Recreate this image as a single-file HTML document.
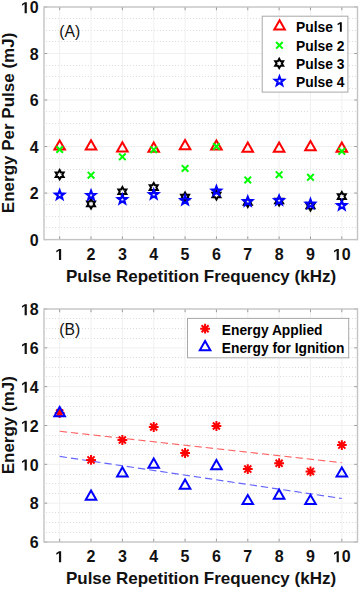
<!DOCTYPE html>
<html><head><meta charset="utf-8"><style>
html,body{margin:0;padding:0;background:#fff;}
body{width:359px;height:590px;overflow:hidden;}
svg{display:block;}
text{font-family:"Liberation Sans",sans-serif;fill:#000;}
.tk{font-size:16px;font-weight:bold;fill:#111;}
.al{font-size:17px;font-weight:bold;fill:#111;}
.lg{font-size:13.8px;font-weight:bold;fill:#000;}
.one{fill:none;}
.lb{font-size:15.7px;fill:#111;}
</style></head><body>
<svg width="359" height="590" viewBox="0 0 359 590">
<rect width="359" height="590" fill="#ffffff"/>
<line x1="46.0" y1="227.50" x2="357.5" y2="227.50" stroke="#dcdcdc" stroke-width="1" stroke-dasharray="1 2"/>
<line x1="46.0" y1="216.50" x2="357.5" y2="216.50" stroke="#dcdcdc" stroke-width="1" stroke-dasharray="1 2"/>
<line x1="46.0" y1="204.50" x2="357.5" y2="204.50" stroke="#dcdcdc" stroke-width="1" stroke-dasharray="1 2"/>
<line x1="46.0" y1="181.50" x2="357.5" y2="181.50" stroke="#dcdcdc" stroke-width="1" stroke-dasharray="1 2"/>
<line x1="46.0" y1="169.50" x2="357.5" y2="169.50" stroke="#dcdcdc" stroke-width="1" stroke-dasharray="1 2"/>
<line x1="46.0" y1="158.50" x2="357.5" y2="158.50" stroke="#dcdcdc" stroke-width="1" stroke-dasharray="1 2"/>
<line x1="46.0" y1="134.50" x2="357.5" y2="134.50" stroke="#dcdcdc" stroke-width="1" stroke-dasharray="1 2"/>
<line x1="46.0" y1="123.50" x2="357.5" y2="123.50" stroke="#dcdcdc" stroke-width="1" stroke-dasharray="1 2"/>
<line x1="46.0" y1="111.50" x2="357.5" y2="111.50" stroke="#dcdcdc" stroke-width="1" stroke-dasharray="1 2"/>
<line x1="46.0" y1="88.50" x2="357.5" y2="88.50" stroke="#dcdcdc" stroke-width="1" stroke-dasharray="1 2"/>
<line x1="46.0" y1="76.50" x2="357.5" y2="76.50" stroke="#dcdcdc" stroke-width="1" stroke-dasharray="1 2"/>
<line x1="46.0" y1="65.50" x2="357.5" y2="65.50" stroke="#dcdcdc" stroke-width="1" stroke-dasharray="1 2"/>
<line x1="46.0" y1="41.50" x2="357.5" y2="41.50" stroke="#dcdcdc" stroke-width="1" stroke-dasharray="1 2"/>
<line x1="46.0" y1="30.50" x2="357.5" y2="30.50" stroke="#dcdcdc" stroke-width="1" stroke-dasharray="1 2"/>
<line x1="46.0" y1="18.50" x2="357.5" y2="18.50" stroke="#dcdcdc" stroke-width="1" stroke-dasharray="1 2"/>
<line x1="44.0" y1="193.08" x2="357.5" y2="193.08" stroke="#f0f0f0" stroke-width="1"/>
<line x1="44.0" y1="146.56" x2="357.5" y2="146.56" stroke="#f0f0f0" stroke-width="1"/>
<line x1="44.0" y1="100.04" x2="357.5" y2="100.04" stroke="#f0f0f0" stroke-width="1"/>
<line x1="44.0" y1="53.52" x2="357.5" y2="53.52" stroke="#f0f0f0" stroke-width="1"/>
<line x1="59.67" y1="7.0" x2="59.67" y2="239.6" stroke="#f0f0f0" stroke-width="1"/>
<line x1="91.03" y1="7.0" x2="91.03" y2="239.6" stroke="#f0f0f0" stroke-width="1"/>
<line x1="122.38" y1="7.0" x2="122.38" y2="239.6" stroke="#f0f0f0" stroke-width="1"/>
<line x1="153.72" y1="7.0" x2="153.72" y2="239.6" stroke="#f0f0f0" stroke-width="1"/>
<line x1="185.07" y1="7.0" x2="185.07" y2="239.6" stroke="#f0f0f0" stroke-width="1"/>
<line x1="216.43" y1="7.0" x2="216.43" y2="239.6" stroke="#f0f0f0" stroke-width="1"/>
<line x1="247.78" y1="7.0" x2="247.78" y2="239.6" stroke="#f0f0f0" stroke-width="1"/>
<line x1="279.12" y1="7.0" x2="279.12" y2="239.6" stroke="#f0f0f0" stroke-width="1"/>
<line x1="310.48" y1="7.0" x2="310.48" y2="239.6" stroke="#f0f0f0" stroke-width="1"/>
<line x1="341.82" y1="7.0" x2="341.82" y2="239.6" stroke="#f0f0f0" stroke-width="1"/>
<line x1="44.0" y1="239.60" x2="47.2" y2="239.60" stroke="#9a9a9a" stroke-width="1"/>
<line x1="354.3" y1="239.60" x2="357.5" y2="239.60" stroke="#9a9a9a" stroke-width="1"/>
<line x1="44.0" y1="193.08" x2="47.2" y2="193.08" stroke="#9a9a9a" stroke-width="1"/>
<line x1="354.3" y1="193.08" x2="357.5" y2="193.08" stroke="#9a9a9a" stroke-width="1"/>
<line x1="44.0" y1="146.56" x2="47.2" y2="146.56" stroke="#9a9a9a" stroke-width="1"/>
<line x1="354.3" y1="146.56" x2="357.5" y2="146.56" stroke="#9a9a9a" stroke-width="1"/>
<line x1="44.0" y1="100.04" x2="47.2" y2="100.04" stroke="#9a9a9a" stroke-width="1"/>
<line x1="354.3" y1="100.04" x2="357.5" y2="100.04" stroke="#9a9a9a" stroke-width="1"/>
<line x1="44.0" y1="53.52" x2="47.2" y2="53.52" stroke="#9a9a9a" stroke-width="1"/>
<line x1="354.3" y1="53.52" x2="357.5" y2="53.52" stroke="#9a9a9a" stroke-width="1"/>
<line x1="44.0" y1="7.00" x2="47.2" y2="7.00" stroke="#9a9a9a" stroke-width="1"/>
<line x1="354.3" y1="7.00" x2="357.5" y2="7.00" stroke="#9a9a9a" stroke-width="1"/>
<line x1="59.67" y1="239.6" x2="59.67" y2="236.4" stroke="#9a9a9a" stroke-width="1"/>
<line x1="59.67" y1="7.0" x2="59.67" y2="10.2" stroke="#9a9a9a" stroke-width="1"/>
<line x1="91.03" y1="239.6" x2="91.03" y2="236.4" stroke="#9a9a9a" stroke-width="1"/>
<line x1="91.03" y1="7.0" x2="91.03" y2="10.2" stroke="#9a9a9a" stroke-width="1"/>
<line x1="122.38" y1="239.6" x2="122.38" y2="236.4" stroke="#9a9a9a" stroke-width="1"/>
<line x1="122.38" y1="7.0" x2="122.38" y2="10.2" stroke="#9a9a9a" stroke-width="1"/>
<line x1="153.72" y1="239.6" x2="153.72" y2="236.4" stroke="#9a9a9a" stroke-width="1"/>
<line x1="153.72" y1="7.0" x2="153.72" y2="10.2" stroke="#9a9a9a" stroke-width="1"/>
<line x1="185.07" y1="239.6" x2="185.07" y2="236.4" stroke="#9a9a9a" stroke-width="1"/>
<line x1="185.07" y1="7.0" x2="185.07" y2="10.2" stroke="#9a9a9a" stroke-width="1"/>
<line x1="216.43" y1="239.6" x2="216.43" y2="236.4" stroke="#9a9a9a" stroke-width="1"/>
<line x1="216.43" y1="7.0" x2="216.43" y2="10.2" stroke="#9a9a9a" stroke-width="1"/>
<line x1="247.78" y1="239.6" x2="247.78" y2="236.4" stroke="#9a9a9a" stroke-width="1"/>
<line x1="247.78" y1="7.0" x2="247.78" y2="10.2" stroke="#9a9a9a" stroke-width="1"/>
<line x1="279.12" y1="239.6" x2="279.12" y2="236.4" stroke="#9a9a9a" stroke-width="1"/>
<line x1="279.12" y1="7.0" x2="279.12" y2="10.2" stroke="#9a9a9a" stroke-width="1"/>
<line x1="310.48" y1="239.6" x2="310.48" y2="236.4" stroke="#9a9a9a" stroke-width="1"/>
<line x1="310.48" y1="7.0" x2="310.48" y2="10.2" stroke="#9a9a9a" stroke-width="1"/>
<line x1="341.82" y1="239.6" x2="341.82" y2="236.4" stroke="#9a9a9a" stroke-width="1"/>
<line x1="341.82" y1="7.0" x2="341.82" y2="10.2" stroke="#9a9a9a" stroke-width="1"/>
<rect x="44.0" y="7.0" width="313.5" height="232.6" fill="none" stroke="#c4c4c4" stroke-width="1.4"/>
<text x="38.7" y="245.80" text-anchor="end" class="tk">0</text>
<text x="38.7" y="199.28" text-anchor="end" class="tk">2</text>
<text x="38.7" y="152.76" text-anchor="end" class="tk">4</text>
<text x="38.7" y="106.24" text-anchor="end" class="tk">6</text>
<text x="38.7" y="59.72" text-anchor="end" class="tk">8</text>
<text x="38.7" y="13.20" text-anchor="end" class="tk"><tspan class="one">1</tspan>0</text>
<text x="59.67" y="259.90" text-anchor="middle" class="tk"><tspan class="one">1</tspan></text>
<text x="91.03" y="259.90" text-anchor="middle" class="tk">2</text>
<text x="122.38" y="259.90" text-anchor="middle" class="tk">3</text>
<text x="153.72" y="259.90" text-anchor="middle" class="tk">4</text>
<text x="185.07" y="259.90" text-anchor="middle" class="tk">5</text>
<text x="216.43" y="259.90" text-anchor="middle" class="tk">6</text>
<text x="247.78" y="259.90" text-anchor="middle" class="tk">7</text>
<text x="279.12" y="259.90" text-anchor="middle" class="tk">8</text>
<text x="310.48" y="259.90" text-anchor="middle" class="tk">9</text>
<text x="341.82" y="259.90" text-anchor="middle" class="tk"><tspan class="one">1</tspan>0</text>
<text x="59.3" y="36.5" class="lb">(A)</text>
<text transform="translate(14.1,122.9) rotate(-90)" text-anchor="middle" class="al">Energy Per Pulse (mJ)</text>
<text x="201" y="281.9" text-anchor="middle" class="al">Pulse Repetition Frequency (kHz)</text>
<path d="M59.67 140.41L54.40 149.60L64.95 149.60Z" fill="none" stroke="#ff0000" stroke-width="2.0" stroke-linejoin="miter" stroke-miterlimit="4"/>
<path d="M91.03 140.21L85.75 149.40L96.30 149.40Z" fill="none" stroke="#ff0000" stroke-width="2.0" stroke-linejoin="miter" stroke-miterlimit="4"/>
<path d="M122.38 142.21L117.10 151.40L127.65 151.40Z" fill="none" stroke="#ff0000" stroke-width="2.0" stroke-linejoin="miter" stroke-miterlimit="4"/>
<path d="M153.72 142.61L148.45 151.80L159.00 151.80Z" fill="none" stroke="#ff0000" stroke-width="2.0" stroke-linejoin="miter" stroke-miterlimit="4"/>
<path d="M185.07 140.11L179.80 149.30L190.35 149.30Z" fill="none" stroke="#ff0000" stroke-width="2.0" stroke-linejoin="miter" stroke-miterlimit="4"/>
<path d="M216.43 140.41L211.15 149.60L221.70 149.60Z" fill="none" stroke="#ff0000" stroke-width="2.0" stroke-linejoin="miter" stroke-miterlimit="4"/>
<path d="M247.78 142.61L242.50 151.80L253.05 151.80Z" fill="none" stroke="#ff0000" stroke-width="2.0" stroke-linejoin="miter" stroke-miterlimit="4"/>
<path d="M279.12 142.61L273.85 151.80L284.40 151.80Z" fill="none" stroke="#ff0000" stroke-width="2.0" stroke-linejoin="miter" stroke-miterlimit="4"/>
<path d="M310.48 141.11L305.20 150.30L315.75 150.30Z" fill="none" stroke="#ff0000" stroke-width="2.0" stroke-linejoin="miter" stroke-miterlimit="4"/>
<path d="M341.82 142.61L336.55 151.80L347.10 151.80Z" fill="none" stroke="#ff0000" stroke-width="2.0" stroke-linejoin="miter" stroke-miterlimit="4"/>
<path d="M56.38 146.20L62.97 152.80M56.38 152.80L62.97 146.20" stroke="#00ff00" stroke-width="2.0" fill="none"/>
<path d="M87.73 171.90L94.33 178.50M87.73 178.50L94.33 171.90" stroke="#00ff00" stroke-width="2.0" fill="none"/>
<path d="M119.08 153.50L125.67 160.10M119.08 160.10L125.67 153.50" stroke="#00ff00" stroke-width="2.0" fill="none"/>
<path d="M150.42 146.40L157.03 153.00M150.42 153.00L157.03 146.40" stroke="#00ff00" stroke-width="2.0" fill="none"/>
<path d="M181.77 165.10L188.38 171.70M181.77 171.70L188.38 165.10" stroke="#00ff00" stroke-width="2.0" fill="none"/>
<path d="M213.12 143.20L219.73 149.80M213.12 149.80L219.73 143.20" stroke="#00ff00" stroke-width="2.0" fill="none"/>
<path d="M244.47 176.60L251.08 183.20M244.47 183.20L251.08 176.60" stroke="#00ff00" stroke-width="2.0" fill="none"/>
<path d="M275.82 171.40L282.43 178.00M275.82 178.00L282.43 171.40" stroke="#00ff00" stroke-width="2.0" fill="none"/>
<path d="M307.18 174.00L313.78 180.60M307.18 180.60L313.78 174.00" stroke="#00ff00" stroke-width="2.0" fill="none"/>
<path d="M338.52 148.00L345.12 154.60M338.52 154.60L345.12 148.00" stroke="#00ff00" stroke-width="2.0" fill="none"/>
<path d="M59.67 170.10L61.00 172.40L63.66 172.40L62.33 174.70L63.66 177.00L61.00 177.00L59.67 179.30L58.35 177.00L55.69 177.00L57.02 174.70L55.69 172.40L58.35 172.40Z" fill="none" stroke="#000000" stroke-width="2.0" stroke-linejoin="miter" stroke-miterlimit="6"/>
<path d="M91.03 199.30L92.35 201.60L95.01 201.60L93.68 203.90L95.01 206.20L92.35 206.20L91.03 208.50L89.70 206.20L87.04 206.20L88.37 203.90L87.04 201.60L89.70 201.60Z" fill="none" stroke="#000000" stroke-width="2.0" stroke-linejoin="miter" stroke-miterlimit="6"/>
<path d="M122.38 187.10L123.70 189.40L126.36 189.40L125.03 191.70L126.36 194.00L123.70 194.00L122.38 196.30L121.05 194.00L118.39 194.00L119.72 191.70L118.39 189.40L121.05 189.40Z" fill="none" stroke="#000000" stroke-width="2.0" stroke-linejoin="miter" stroke-miterlimit="6"/>
<path d="M153.72 183.00L155.05 185.30L157.71 185.30L156.38 187.60L157.71 189.90L155.05 189.90L153.72 192.20L152.40 189.90L149.74 189.90L151.07 187.60L149.74 185.30L152.40 185.30Z" fill="none" stroke="#000000" stroke-width="2.0" stroke-linejoin="miter" stroke-miterlimit="6"/>
<path d="M185.07 192.40L186.40 194.70L189.06 194.70L187.73 197.00L189.06 199.30L186.40 199.30L185.07 201.60L183.75 199.30L181.09 199.30L182.42 197.00L181.09 194.70L183.75 194.70Z" fill="none" stroke="#000000" stroke-width="2.0" stroke-linejoin="miter" stroke-miterlimit="6"/>
<path d="M216.43 190.40L217.75 192.70L220.41 192.70L219.08 195.00L220.41 197.30L217.75 197.30L216.43 199.60L215.10 197.30L212.44 197.30L213.77 195.00L212.44 192.70L215.10 192.70Z" fill="none" stroke="#000000" stroke-width="2.0" stroke-linejoin="miter" stroke-miterlimit="6"/>
<path d="M247.78 197.90L249.10 200.20L251.76 200.20L250.43 202.50L251.76 204.80L249.10 204.80L247.78 207.10L246.45 204.80L243.79 204.80L245.12 202.50L243.79 200.20L246.45 200.20Z" fill="none" stroke="#000000" stroke-width="2.0" stroke-linejoin="miter" stroke-miterlimit="6"/>
<path d="M279.12 196.40L280.45 198.70L283.11 198.70L281.78 201.00L283.11 203.30L280.45 203.30L279.12 205.60L277.80 203.30L275.14 203.30L276.47 201.00L275.14 198.70L277.80 198.70Z" fill="none" stroke="#000000" stroke-width="2.0" stroke-linejoin="miter" stroke-miterlimit="6"/>
<path d="M310.48 201.40L311.80 203.70L314.46 203.70L313.13 206.00L314.46 208.30L311.80 208.30L310.48 210.60L309.15 208.30L306.49 208.30L307.82 206.00L306.49 203.70L309.15 203.70Z" fill="none" stroke="#000000" stroke-width="2.0" stroke-linejoin="miter" stroke-miterlimit="6"/>
<path d="M341.82 192.00L343.15 194.30L345.81 194.30L344.48 196.60L345.81 198.90L343.15 198.90L341.82 201.20L340.50 198.90L337.84 198.90L339.17 196.60L337.84 194.30L340.50 194.30Z" fill="none" stroke="#000000" stroke-width="2.0" stroke-linejoin="miter" stroke-miterlimit="6"/>
<path d="M59.67 190.30L60.84 193.40L64.14 193.55L61.55 195.61L62.44 198.80L59.67 196.97L56.91 198.80L57.80 195.61L55.21 193.55L58.51 193.40Z" fill="none" stroke="#0000ff" stroke-width="2.1" stroke-linejoin="miter" stroke-miterlimit="6"/>
<path d="M91.03 190.70L92.19 193.80L95.49 193.95L92.90 196.01L93.79 199.20L91.03 197.37L88.26 199.20L89.15 196.01L86.56 193.95L89.86 193.80Z" fill="none" stroke="#0000ff" stroke-width="2.1" stroke-linejoin="miter" stroke-miterlimit="6"/>
<path d="M122.38 194.80L123.54 197.90L126.84 198.05L124.25 200.11L125.14 203.30L122.38 201.47L119.61 203.30L120.50 200.11L117.91 198.05L121.21 197.90Z" fill="none" stroke="#0000ff" stroke-width="2.1" stroke-linejoin="miter" stroke-miterlimit="6"/>
<path d="M153.72 189.80L154.89 192.90L158.19 193.05L155.60 195.11L156.49 198.30L153.72 196.47L150.96 198.30L151.85 195.11L149.26 193.05L152.56 192.90Z" fill="none" stroke="#0000ff" stroke-width="2.1" stroke-linejoin="miter" stroke-miterlimit="6"/>
<path d="M185.07 195.60L186.24 198.70L189.54 198.85L186.95 200.91L187.84 204.10L185.07 202.27L182.31 204.10L183.20 200.91L180.61 198.85L183.91 198.70Z" fill="none" stroke="#0000ff" stroke-width="2.1" stroke-linejoin="miter" stroke-miterlimit="6"/>
<path d="M216.43 186.30L217.59 189.40L220.89 189.55L218.30 191.61L219.19 194.80L216.43 192.97L213.66 194.80L214.55 191.61L211.96 189.55L215.26 189.40Z" fill="none" stroke="#0000ff" stroke-width="2.1" stroke-linejoin="miter" stroke-miterlimit="6"/>
<path d="M247.78 196.80L248.94 199.90L252.24 200.05L249.65 202.11L250.54 205.30L247.78 203.47L245.01 205.30L245.90 202.11L243.31 200.05L246.61 199.90Z" fill="none" stroke="#0000ff" stroke-width="2.1" stroke-linejoin="miter" stroke-miterlimit="6"/>
<path d="M279.12 195.80L280.29 198.90L283.59 199.05L281.00 201.11L281.89 204.30L279.12 202.47L276.36 204.30L277.25 201.11L274.66 199.05L277.96 198.90Z" fill="none" stroke="#0000ff" stroke-width="2.1" stroke-linejoin="miter" stroke-miterlimit="6"/>
<path d="M310.48 199.30L311.64 202.40L314.94 202.55L312.35 204.61L313.24 207.80L310.48 205.97L307.71 207.80L308.60 204.61L306.01 202.55L309.31 202.40Z" fill="none" stroke="#0000ff" stroke-width="2.1" stroke-linejoin="miter" stroke-miterlimit="6"/>
<path d="M341.82 200.80L342.99 203.90L346.29 204.05L343.70 206.11L344.59 209.30L341.82 207.47L339.06 209.30L339.95 206.11L337.36 204.05L340.66 203.90Z" fill="none" stroke="#0000ff" stroke-width="2.1" stroke-linejoin="miter" stroke-miterlimit="6"/>
<rect x="262.2" y="16.2" width="85.7" height="75.9" fill="#ffffff" stroke="#a8a8a8" stroke-width="1"/>
<path d="M279.60 20.31L274.33 29.50L284.87 29.50Z" fill="none" stroke="#ff0000" stroke-width="2.0" stroke-linejoin="miter" stroke-miterlimit="4"/>
<path d="M276.10 42.00L282.70 48.60M276.10 48.60L282.70 42.00" stroke="#00ff00" stroke-width="2.0" fill="none"/>
<path d="M279.20 58.85L280.53 61.15L283.18 61.15L281.85 63.45L283.18 65.75L280.53 65.75L279.20 68.05L277.87 65.75L275.22 65.75L276.55 63.45L275.22 61.15L277.87 61.15Z" fill="none" stroke="#000000" stroke-width="2.0" stroke-linejoin="miter" stroke-miterlimit="6"/>
<path d="M279.50 76.50L280.66 79.60L283.97 79.75L281.38 81.81L282.26 85.00L279.50 83.17L276.74 85.00L277.62 81.81L275.03 79.75L278.34 79.60Z" fill="none" stroke="#0000ff" stroke-width="2.1" stroke-linejoin="miter" stroke-miterlimit="6"/>
<text x="296.0" y="31.8" class="lg">Pulse <tspan class="one">1</tspan></text>
<text x="296.0" y="50.6" class="lg">Pulse 2</text>
<text x="296.0" y="68.9" class="lg">Pulse 3</text>
<text x="296.0" y="87.1" class="lg">Pulse 4</text>
<line x1="46.0" y1="532.50" x2="357.5" y2="532.50" stroke="#dcdcdc" stroke-width="1" stroke-dasharray="1 2"/>
<line x1="46.0" y1="522.50" x2="357.5" y2="522.50" stroke="#dcdcdc" stroke-width="1" stroke-dasharray="1 2"/>
<line x1="46.0" y1="512.50" x2="357.5" y2="512.50" stroke="#dcdcdc" stroke-width="1" stroke-dasharray="1 2"/>
<line x1="46.0" y1="493.50" x2="357.5" y2="493.50" stroke="#dcdcdc" stroke-width="1" stroke-dasharray="1 2"/>
<line x1="46.0" y1="483.50" x2="357.5" y2="483.50" stroke="#dcdcdc" stroke-width="1" stroke-dasharray="1 2"/>
<line x1="46.0" y1="474.50" x2="357.5" y2="474.50" stroke="#dcdcdc" stroke-width="1" stroke-dasharray="1 2"/>
<line x1="46.0" y1="454.50" x2="357.5" y2="454.50" stroke="#dcdcdc" stroke-width="1" stroke-dasharray="1 2"/>
<line x1="46.0" y1="444.50" x2="357.5" y2="444.50" stroke="#dcdcdc" stroke-width="1" stroke-dasharray="1 2"/>
<line x1="46.0" y1="435.50" x2="357.5" y2="435.50" stroke="#dcdcdc" stroke-width="1" stroke-dasharray="1 2"/>
<line x1="46.0" y1="415.50" x2="357.5" y2="415.50" stroke="#dcdcdc" stroke-width="1" stroke-dasharray="1 2"/>
<line x1="46.0" y1="406.50" x2="357.5" y2="406.50" stroke="#dcdcdc" stroke-width="1" stroke-dasharray="1 2"/>
<line x1="46.0" y1="396.50" x2="357.5" y2="396.50" stroke="#dcdcdc" stroke-width="1" stroke-dasharray="1 2"/>
<line x1="46.0" y1="376.50" x2="357.5" y2="376.50" stroke="#dcdcdc" stroke-width="1" stroke-dasharray="1 2"/>
<line x1="46.0" y1="367.50" x2="357.5" y2="367.50" stroke="#dcdcdc" stroke-width="1" stroke-dasharray="1 2"/>
<line x1="46.0" y1="357.50" x2="357.5" y2="357.50" stroke="#dcdcdc" stroke-width="1" stroke-dasharray="1 2"/>
<line x1="46.0" y1="338.50" x2="357.5" y2="338.50" stroke="#dcdcdc" stroke-width="1" stroke-dasharray="1 2"/>
<line x1="46.0" y1="328.50" x2="357.5" y2="328.50" stroke="#dcdcdc" stroke-width="1" stroke-dasharray="1 2"/>
<line x1="46.0" y1="318.50" x2="357.5" y2="318.50" stroke="#dcdcdc" stroke-width="1" stroke-dasharray="1 2"/>
<line x1="44.0" y1="503.17" x2="357.5" y2="503.17" stroke="#f0f0f0" stroke-width="1"/>
<line x1="44.0" y1="464.33" x2="357.5" y2="464.33" stroke="#f0f0f0" stroke-width="1"/>
<line x1="44.0" y1="425.50" x2="357.5" y2="425.50" stroke="#f0f0f0" stroke-width="1"/>
<line x1="44.0" y1="386.67" x2="357.5" y2="386.67" stroke="#f0f0f0" stroke-width="1"/>
<line x1="44.0" y1="347.83" x2="357.5" y2="347.83" stroke="#f0f0f0" stroke-width="1"/>
<line x1="59.67" y1="309.0" x2="59.67" y2="542.0" stroke="#f0f0f0" stroke-width="1"/>
<line x1="91.03" y1="309.0" x2="91.03" y2="542.0" stroke="#f0f0f0" stroke-width="1"/>
<line x1="122.38" y1="309.0" x2="122.38" y2="542.0" stroke="#f0f0f0" stroke-width="1"/>
<line x1="153.72" y1="309.0" x2="153.72" y2="542.0" stroke="#f0f0f0" stroke-width="1"/>
<line x1="185.07" y1="309.0" x2="185.07" y2="542.0" stroke="#f0f0f0" stroke-width="1"/>
<line x1="216.43" y1="309.0" x2="216.43" y2="542.0" stroke="#f0f0f0" stroke-width="1"/>
<line x1="247.78" y1="309.0" x2="247.78" y2="542.0" stroke="#f0f0f0" stroke-width="1"/>
<line x1="279.12" y1="309.0" x2="279.12" y2="542.0" stroke="#f0f0f0" stroke-width="1"/>
<line x1="310.48" y1="309.0" x2="310.48" y2="542.0" stroke="#f0f0f0" stroke-width="1"/>
<line x1="341.82" y1="309.0" x2="341.82" y2="542.0" stroke="#f0f0f0" stroke-width="1"/>
<line x1="44.0" y1="542.00" x2="47.2" y2="542.00" stroke="#9a9a9a" stroke-width="1"/>
<line x1="354.3" y1="542.00" x2="357.5" y2="542.00" stroke="#9a9a9a" stroke-width="1"/>
<line x1="44.0" y1="503.17" x2="47.2" y2="503.17" stroke="#9a9a9a" stroke-width="1"/>
<line x1="354.3" y1="503.17" x2="357.5" y2="503.17" stroke="#9a9a9a" stroke-width="1"/>
<line x1="44.0" y1="464.33" x2="47.2" y2="464.33" stroke="#9a9a9a" stroke-width="1"/>
<line x1="354.3" y1="464.33" x2="357.5" y2="464.33" stroke="#9a9a9a" stroke-width="1"/>
<line x1="44.0" y1="425.50" x2="47.2" y2="425.50" stroke="#9a9a9a" stroke-width="1"/>
<line x1="354.3" y1="425.50" x2="357.5" y2="425.50" stroke="#9a9a9a" stroke-width="1"/>
<line x1="44.0" y1="386.67" x2="47.2" y2="386.67" stroke="#9a9a9a" stroke-width="1"/>
<line x1="354.3" y1="386.67" x2="357.5" y2="386.67" stroke="#9a9a9a" stroke-width="1"/>
<line x1="44.0" y1="347.83" x2="47.2" y2="347.83" stroke="#9a9a9a" stroke-width="1"/>
<line x1="354.3" y1="347.83" x2="357.5" y2="347.83" stroke="#9a9a9a" stroke-width="1"/>
<line x1="44.0" y1="309.00" x2="47.2" y2="309.00" stroke="#9a9a9a" stroke-width="1"/>
<line x1="354.3" y1="309.00" x2="357.5" y2="309.00" stroke="#9a9a9a" stroke-width="1"/>
<line x1="59.67" y1="542.0" x2="59.67" y2="538.8" stroke="#9a9a9a" stroke-width="1"/>
<line x1="59.67" y1="309.0" x2="59.67" y2="312.2" stroke="#9a9a9a" stroke-width="1"/>
<line x1="91.03" y1="542.0" x2="91.03" y2="538.8" stroke="#9a9a9a" stroke-width="1"/>
<line x1="91.03" y1="309.0" x2="91.03" y2="312.2" stroke="#9a9a9a" stroke-width="1"/>
<line x1="122.38" y1="542.0" x2="122.38" y2="538.8" stroke="#9a9a9a" stroke-width="1"/>
<line x1="122.38" y1="309.0" x2="122.38" y2="312.2" stroke="#9a9a9a" stroke-width="1"/>
<line x1="153.72" y1="542.0" x2="153.72" y2="538.8" stroke="#9a9a9a" stroke-width="1"/>
<line x1="153.72" y1="309.0" x2="153.72" y2="312.2" stroke="#9a9a9a" stroke-width="1"/>
<line x1="185.07" y1="542.0" x2="185.07" y2="538.8" stroke="#9a9a9a" stroke-width="1"/>
<line x1="185.07" y1="309.0" x2="185.07" y2="312.2" stroke="#9a9a9a" stroke-width="1"/>
<line x1="216.43" y1="542.0" x2="216.43" y2="538.8" stroke="#9a9a9a" stroke-width="1"/>
<line x1="216.43" y1="309.0" x2="216.43" y2="312.2" stroke="#9a9a9a" stroke-width="1"/>
<line x1="247.78" y1="542.0" x2="247.78" y2="538.8" stroke="#9a9a9a" stroke-width="1"/>
<line x1="247.78" y1="309.0" x2="247.78" y2="312.2" stroke="#9a9a9a" stroke-width="1"/>
<line x1="279.12" y1="542.0" x2="279.12" y2="538.8" stroke="#9a9a9a" stroke-width="1"/>
<line x1="279.12" y1="309.0" x2="279.12" y2="312.2" stroke="#9a9a9a" stroke-width="1"/>
<line x1="310.48" y1="542.0" x2="310.48" y2="538.8" stroke="#9a9a9a" stroke-width="1"/>
<line x1="310.48" y1="309.0" x2="310.48" y2="312.2" stroke="#9a9a9a" stroke-width="1"/>
<line x1="341.82" y1="542.0" x2="341.82" y2="538.8" stroke="#9a9a9a" stroke-width="1"/>
<line x1="341.82" y1="309.0" x2="341.82" y2="312.2" stroke="#9a9a9a" stroke-width="1"/>
<rect x="44.0" y="309.0" width="313.5" height="233.0" fill="none" stroke="#c4c4c4" stroke-width="1.4"/>
<text x="38.7" y="548.20" text-anchor="end" class="tk">6</text>
<text x="38.7" y="509.37" text-anchor="end" class="tk">8</text>
<text x="38.7" y="470.53" text-anchor="end" class="tk"><tspan class="one">1</tspan>0</text>
<text x="38.7" y="431.70" text-anchor="end" class="tk"><tspan class="one">1</tspan>2</text>
<text x="38.7" y="392.87" text-anchor="end" class="tk"><tspan class="one">1</tspan>4</text>
<text x="38.7" y="354.03" text-anchor="end" class="tk"><tspan class="one">1</tspan>6</text>
<text x="38.7" y="315.20" text-anchor="end" class="tk"><tspan class="one">1</tspan>8</text>
<text x="59.67" y="562.30" text-anchor="middle" class="tk"><tspan class="one">1</tspan></text>
<text x="91.03" y="562.30" text-anchor="middle" class="tk">2</text>
<text x="122.38" y="562.30" text-anchor="middle" class="tk">3</text>
<text x="153.72" y="562.30" text-anchor="middle" class="tk">4</text>
<text x="185.07" y="562.30" text-anchor="middle" class="tk">5</text>
<text x="216.43" y="562.30" text-anchor="middle" class="tk">6</text>
<text x="247.78" y="562.30" text-anchor="middle" class="tk">7</text>
<text x="279.12" y="562.30" text-anchor="middle" class="tk">8</text>
<text x="310.48" y="562.30" text-anchor="middle" class="tk">9</text>
<text x="341.82" y="562.30" text-anchor="middle" class="tk"><tspan class="one">1</tspan>0</text>
<text x="59.3" y="334.5" class="lb">(B)</text>
<text transform="translate(14.1,425.2) rotate(-90)" text-anchor="middle" class="al">Energy (mJ)</text>
<text x="201" y="584.4" text-anchor="middle" class="al">Pulse Repetition Frequency (kHz)</text>
<line x1="59.7" y1="431.3" x2="341.8" y2="462.7" stroke="#ff6464" stroke-width="1.15" stroke-dasharray="7.3 4"/>
<line x1="59.7" y1="456.4" x2="341.8" y2="498.5" stroke="#6464ff" stroke-width="1.15" stroke-dasharray="7.3 4"/>
<path d="M54.77 413.00L64.58 413.00M59.67 408.10L59.67 417.90M56.15 409.47L63.20 416.53M56.15 416.53L63.20 409.47" stroke="#ff0000" stroke-width="2.0" fill="none"/>
<path d="M86.12 459.90L95.93 459.90M91.03 455.00L91.03 464.80M87.50 456.37L94.55 463.43M87.50 463.43L94.55 456.37" stroke="#ff0000" stroke-width="2.0" fill="none"/>
<path d="M117.47 440.00L127.28 440.00M122.38 435.10L122.38 444.90M118.85 436.47L125.90 443.53M118.85 443.53L125.90 436.47" stroke="#ff0000" stroke-width="2.0" fill="none"/>
<path d="M148.82 427.00L158.62 427.00M153.72 422.10L153.72 431.90M150.20 423.47L157.25 430.53M150.20 430.53L157.25 423.47" stroke="#ff0000" stroke-width="2.0" fill="none"/>
<path d="M180.17 453.00L189.97 453.00M185.07 448.10L185.07 457.90M181.55 449.47L188.60 456.53M181.55 456.53L188.60 449.47" stroke="#ff0000" stroke-width="2.0" fill="none"/>
<path d="M211.53 426.00L221.33 426.00M216.43 421.10L216.43 430.90M212.90 422.47L219.95 429.53M212.90 429.53L219.95 422.47" stroke="#ff0000" stroke-width="2.0" fill="none"/>
<path d="M242.88 469.10L252.68 469.10M247.78 464.20L247.78 474.00M244.25 465.57L251.30 472.63M244.25 472.63L251.30 465.57" stroke="#ff0000" stroke-width="2.0" fill="none"/>
<path d="M274.23 463.20L284.02 463.20M279.12 458.30L279.12 468.10M275.60 459.67L282.65 466.73M275.60 466.73L282.65 459.67" stroke="#ff0000" stroke-width="2.0" fill="none"/>
<path d="M305.58 471.40L315.38 471.40M310.48 466.50L310.48 476.30M306.95 467.87L314.00 474.93M306.95 474.93L314.00 467.87" stroke="#ff0000" stroke-width="2.0" fill="none"/>
<path d="M336.93 445.10L346.72 445.10M341.82 440.20L341.82 450.00M338.30 441.57L345.35 448.63M338.30 448.63L345.35 441.57" stroke="#ff0000" stroke-width="2.0" fill="none"/>
<path d="M59.67 407.11L54.40 416.30L64.95 416.30Z" fill="none" stroke="#0000ff" stroke-width="2.0" stroke-linejoin="miter" stroke-miterlimit="4"/>
<path d="M91.03 490.51L85.75 499.70L96.30 499.70Z" fill="none" stroke="#0000ff" stroke-width="2.0" stroke-linejoin="miter" stroke-miterlimit="4"/>
<path d="M122.38 467.31L117.10 476.50L127.65 476.50Z" fill="none" stroke="#0000ff" stroke-width="2.0" stroke-linejoin="miter" stroke-miterlimit="4"/>
<path d="M153.72 458.51L148.45 467.70L159.00 467.70Z" fill="none" stroke="#0000ff" stroke-width="2.0" stroke-linejoin="miter" stroke-miterlimit="4"/>
<path d="M185.07 479.61L179.80 488.80L190.35 488.80Z" fill="none" stroke="#0000ff" stroke-width="2.0" stroke-linejoin="miter" stroke-miterlimit="4"/>
<path d="M216.43 460.11L211.15 469.30L221.70 469.30Z" fill="none" stroke="#0000ff" stroke-width="2.0" stroke-linejoin="miter" stroke-miterlimit="4"/>
<path d="M247.78 494.91L242.50 504.10L253.05 504.10Z" fill="none" stroke="#0000ff" stroke-width="2.0" stroke-linejoin="miter" stroke-miterlimit="4"/>
<path d="M279.12 489.51L273.85 498.70L284.40 498.70Z" fill="none" stroke="#0000ff" stroke-width="2.0" stroke-linejoin="miter" stroke-miterlimit="4"/>
<path d="M310.48 494.91L305.20 504.10L315.75 504.10Z" fill="none" stroke="#0000ff" stroke-width="2.0" stroke-linejoin="miter" stroke-miterlimit="4"/>
<path d="M341.82 467.41L336.55 476.60L347.10 476.60Z" fill="none" stroke="#0000ff" stroke-width="2.0" stroke-linejoin="miter" stroke-miterlimit="4"/>
<rect x="187.5" y="318.4" width="161.2" height="39.4" fill="#ffffff" stroke="#a8a8a8" stroke-width="1"/>
<path d="M200.20 328.70L210.00 328.70M205.10 323.80L205.10 333.60M201.57 325.17L208.63 332.23M201.57 332.23L208.63 325.17" stroke="#ff0000" stroke-width="2.0" fill="none"/>
<path d="M205.10 341.11L199.83 350.30L210.37 350.30Z" fill="none" stroke="#0000ff" stroke-width="2.0" stroke-linejoin="miter" stroke-miterlimit="4"/>
<text x="221.8" y="334.5" class="lg">Energy Applied</text>
<text x="221.8" y="352.9" class="lg">Energy for Ignition</text>
<path transform="translate(20.89,13.20) scale(0.00781,-0.00781)" d="M478 0V1170L140 959V1180L493 1409H759V0Z" fill="rgb(17, 17, 17)"/>
<path transform="translate(55.22,259.90) scale(0.00781,-0.00781)" d="M478 0V1170L140 959V1180L493 1409H759V0Z" fill="rgb(17, 17, 17)"/>
<path transform="translate(332.91,259.90) scale(0.00781,-0.00781)" d="M478 0V1170L140 959V1180L493 1409H759V0Z" fill="rgb(17, 17, 17)"/>
<path transform="translate(336.66,31.80) scale(0.00674,-0.00674)" d="M478 0V1170L140 959V1180L493 1409H759V0Z" fill="rgb(0, 0, 0)"/>
<path transform="translate(20.89,470.53) scale(0.00781,-0.00781)" d="M478 0V1170L140 959V1180L493 1409H759V0Z" fill="rgb(17, 17, 17)"/>
<path transform="translate(20.89,431.70) scale(0.00781,-0.00781)" d="M478 0V1170L140 959V1180L493 1409H759V0Z" fill="rgb(17, 17, 17)"/>
<path transform="translate(20.89,392.87) scale(0.00781,-0.00781)" d="M478 0V1170L140 959V1180L493 1409H759V0Z" fill="rgb(17, 17, 17)"/>
<path transform="translate(20.89,354.03) scale(0.00781,-0.00781)" d="M478 0V1170L140 959V1180L493 1409H759V0Z" fill="rgb(17, 17, 17)"/>
<path transform="translate(20.89,315.20) scale(0.00781,-0.00781)" d="M478 0V1170L140 959V1180L493 1409H759V0Z" fill="rgb(17, 17, 17)"/>
<path transform="translate(55.22,562.30) scale(0.00781,-0.00781)" d="M478 0V1170L140 959V1180L493 1409H759V0Z" fill="rgb(17, 17, 17)"/>
<path transform="translate(332.91,562.30) scale(0.00781,-0.00781)" d="M478 0V1170L140 959V1180L493 1409H759V0Z" fill="rgb(17, 17, 17)"/>
</svg>
</body></html>
